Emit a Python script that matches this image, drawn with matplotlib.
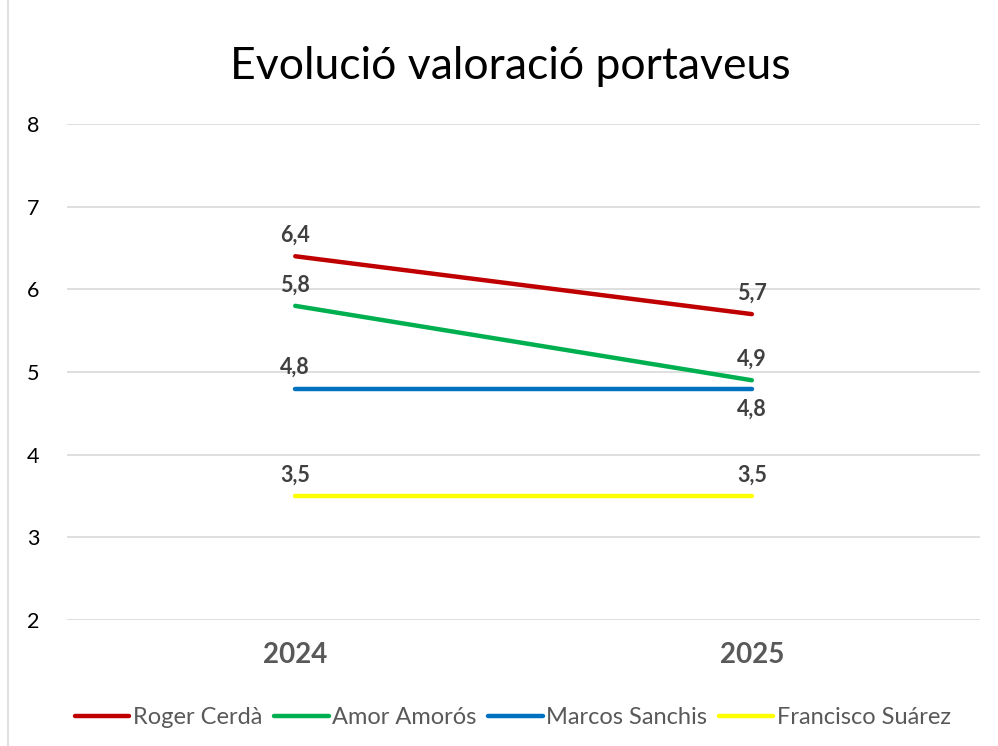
import matplotlib
matplotlib.use("Agg")
import matplotlib.pyplot as plt
from matplotlib.lines import Line2D

years = ["2024", "2025"]
names = ["Roger Cerdà", "Amor Amorós", "Marcos Sanchis", "Francisco Suárez"]
roger = [6.4, 5.7]
amor = [5.8, 4.9]
marcos = [4.8, 4.8]
francisco = [3.5, 3.5]
series = [roger, amor, marcos, francisco]
colors = ["#C00000", "#00B050", "#0070C0", "#FFFF00"]
# label placement: +1 above, -1 below
placement = [[1, 1], [1, 1], [1, -1], [1, 1]]

plt.rcParams['font.family'] = ['Lato', 'DejaVu Sans']

fig = plt.figure(figsize=(9.98, 7.46), dpi=100)
ax = fig.add_axes([0.0671, 0.1689, 0.915, 0.6649])

x = list(range(len(years)))
for vals, c, pl in zip(series, colors, placement):
    ax.plot(x, vals, color=c, lw=3.2, solid_capstyle='round', zorder=3)
    for xi, v, p in zip(x, vals, pl):
        ax.annotate(f"{v:.1f}".replace('.', ','), (xi, v),
                    xytext=(0, 15 * p), textcoords='offset points',
                    ha='center', va='center', fontsize=15.5, fontweight='bold',
                    color='#404040', zorder=4)

ax.set_xlim(-0.5, 1.5)
ax.set_ylim(2, 8)
ax.set_yticks(range(2, 9))
ax.set_yticklabels([str(t) for t in range(2, 9)], fontsize=15.5, color='#000000')
ax.set_xticks(x)
ax.set_xticklabels(years, fontsize=20, fontweight='bold', color='#595959')
ax.tick_params(axis='both', length=0)
ax.tick_params(axis='y', pad=20)
ax.tick_params(axis='x', pad=16)
ax.grid(axis='y', color='#D9D9D9', lw=1.2)
ax.set_axisbelow(True)
for s in ax.spines.values():
    s.set_visible(False)

fig.text(0.511, 0.911, "Evolució valoració portaveus", ha='center', va='center',
         fontsize=32, color='#000000')

handles = [Line2D([0], [0], color=c, lw=3.2, solid_capstyle='round') for c in colors]
fig.legend(handles, names, loc='center', bbox_to_anchor=(0.514, 0.038), ncol=4,
           frameon=False, fontsize=17, handlelength=2.3, handletextpad=0.15,
           columnspacing=0.5, labelcolor='#595959')

fig.add_artist(Line2D([0.008, 0.008], [0, 1], transform=fig.transFigure,
                      color='#D9D9D9', lw=1.2))

fig.savefig("out.png", dpi=100)
